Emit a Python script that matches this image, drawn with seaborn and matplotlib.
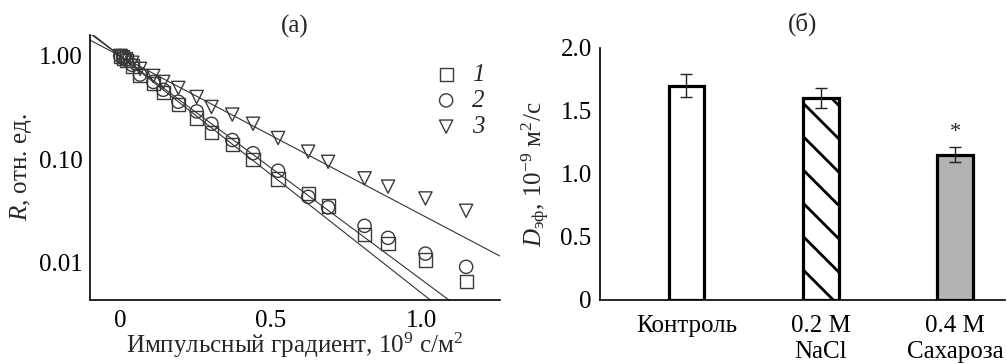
import numpy as np
import pandas as pd
import matplotlib
matplotlib.use("Agg")
import matplotlib.pyplot as plt
import seaborn as sns

sns.set_theme(style="white")
plt.rcParams['font.family'] = ['Liberation Serif', 'DejaVu Serif']
plt.rcParams['mathtext.fontset'] = 'custom'
plt.rcParams['mathtext.rm'] = 'Liberation Serif'
plt.rcParams['mathtext.it'] = 'Liberation Serif:italic'
plt.rcParams.update({'font.size': 18, 'axes.labelsize': 18, 'axes.titlesize': 18,
                     'xtick.labelsize': 18, 'ytick.labelsize': 18,
                     'legend.fontsize': 18, 'hatch.linewidth': 2.0})

# (a) signal attenuation vs pulse gradient
grad = [0, 0.01, 0.02, 0.04, 0.066, 0.11, 0.143, 0.193, 0.254, 0.303, 0.372,
        0.441, 0.524, 0.624, 0.69, 0.811, 0.889, 1.013, 1.148]
r_1 = [1.0, 0.95, 0.9, 0.8, 0.65, 0.54, 0.44, 0.34, 0.25, 0.18, 0.139,
       0.099, 0.064, 0.046, 0.035, 0.0187, 0.0152, 0.0105, 0.0065]
r_2 = [1.0, 0.96, 0.92, 0.82, 0.66, 0.56, 0.47, 0.36, 0.29, 0.22, 0.153,
       0.114, 0.077, 0.043, 0.034, 0.0225, 0.0172, 0.0121, 0.009]
r_3 = [1.0, 0.97, 0.93, 0.86, 0.75, 0.64, 0.56, 0.49, 0.40, 0.32, 0.27,
       0.22, 0.16, 0.118, 0.094, 0.065, 0.054, 0.0415, 0.0315]
series_names = ['1', '2', '3']
series_markers = ['s', 'o', 'v']
# fitted decay, log10(R) per unit gradient
fit_slopes = [2.30, 2.17, 1.54]

# (б) effective diffusion coefficient
groups = ['Контроль', '0.2 M\nNaCl', '0.4 M\nСахароза']
d_eff = [1.70, 1.60, 1.15]
d_err = [0.09, 0.08, 0.06]
bar_colors = ['white', 'white', '#b2b3b6']

fig = plt.figure(figsize=(10.07, 3.64), dpi=100)
ax1 = fig.add_axes([0.0894, 0.176, 0.407, 0.728])
ax2 = fig.add_axes([0.5958, 0.176, 0.402, 0.693])

# ---- panel (a)
x_fit = np.linspace(-0.1, 1.3, 50)
for name, slope in zip(series_names, fit_slopes):
    sns.lineplot(x=x_fit, y=10 ** (-slope * x_fit), ax=ax1, color='#333333',
                 lw=0.8, legend=False)
for name, marker, vals in zip(series_names, series_markers, [r_1, r_2, r_3]):
    sns.scatterplot(x=grad, y=vals, ax=ax1, marker=marker, s=90,
                    facecolors='none', edgecolor='#3a3a3a', linewidth=1.0,
                    label=name)

ax1.set_yscale('log')
ax1.set_xlim(-0.1, 1.26)
ax1.set_ylim(0.0043, 1.6)
ax1.set_xticks([0, 0.5, 1.0])
ax1.set_xticklabels(['0', '0.5', '1.0'])
ax1.set_yticks([0.01, 0.1, 1.0])
ax1.set_yticklabels(['0.01', '0.10', '1.00'])
ax1.tick_params(axis='both', which='both', direction='in', colors='black')
ax1.tick_params(axis='both', which='major', length=6, width=1.2)
ax1.tick_params(axis='y', which='both', pad=5)
ax1.tick_params(axis='x', which='both', pad=7)
ax1.tick_params(axis='y', which='minor', length=4, width=1.0)
ax1.set_xlabel('Импульсный градиент, 10$^9$ с/м$^2$', labelpad=-1)
ax1.set_ylabel('$R$, отн. ед.', labelpad=4)
ax1.set_title('(a)', pad=2)
sns.despine(ax=ax1)
for sp in ['left', 'bottom']:
    ax1.spines[sp].set_color('black')
    ax1.spines[sp].set_linewidth(1.2)
leg = ax1.legend(loc='upper right', frameon=False, handletextpad=0.3,
                 borderaxespad=0.2, labelspacing=0.15, handlelength=1.5,
                 bbox_to_anchor=(1.0, 0.95))
for t in leg.get_texts():
    t.set_fontstyle('italic')

# ---- panel (б)
df_bar = pd.DataFrame({'group': groups, 'd': d_eff})
sns.barplot(data=df_bar, x='group', y='d', hue='group', palette=bar_colors,
            edgecolor='black', linewidth=2.3, width=0.265, legend=False, ax=ax2)
ax2.patches[1].set_hatch('\\')
ax2.errorbar(range(len(groups)), d_eff, yerr=d_err, fmt='none',
             ecolor='#222222', elinewidth=1.0, capsize=4, capthick=1.0)
ax2.text(2, d_err[2] + d_eff[2] + 0.04, '*', ha='center', va='bottom',
         fontsize=16)
ax2.set_xlim(-0.644, 2.37)
ax2.set_ylim(0, 2.0)
ax2.set_yticks([0, 0.5, 1.0, 1.5, 2.0])
ax2.set_yticklabels(['0', '0.5', '1.0', '1.5', '2.0'])
ax2.tick_params(axis='y', direction='in', length=6, width=1.2, colors='black',
                pad=6)
ax2.tick_params(axis='x', direction='out', length=6, width=1.2, colors='black',
                pad=5)
ax2.set_xlabel('')
ax2.set_ylabel('$D_{\\mathrm{эф}}$, 10$^{-9}$ м$^2$/с', labelpad=6)
ax2.set_title('(б)', pad=12)
sns.despine(ax=ax2)
for sp in ['left', 'bottom']:
    ax2.spines[sp].set_color('black')
    ax2.spines[sp].set_linewidth(1.2)

for ax in (ax1, ax2):
    for lbl in ax.get_xticklabels() + ax.get_yticklabels():
        lbl.set_fontfamily('Liberation Serif')

fig.savefig('out.png', dpi=100)
